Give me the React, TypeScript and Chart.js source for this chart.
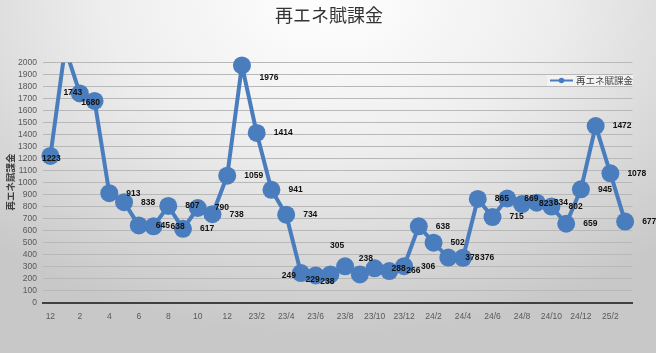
import React, { useEffect, useRef } from "react";
import { Chart, registerables } from "chart.js";

Chart.register(...registerables);

const TITLE = "再エネ賦課金";
const SERIES_NAME = "再エネ賦課金";

const MONTH_LABELS = [
  "12", "1", "2", "3", "4", "5", "6", "7", "8", "9", "10", "11", "12",
  "23/1", "23/2", "23/3", "23/4", "23/5", "23/6", "23/7", "23/8", "23/9", "23/10", "23/11", "23/12",
  "24/1", "24/2", "24/3", "24/4", "24/5", "24/6", "24/7", "24/8", "24/9", "24/10", "24/11", "24/12",
  "25/1", "25/2", "25/3",
];

const VALUES = [
  1223, 2120, 1743, 1680, 913, 838, 645, 638, 807, 617,
  790, 738, 1059, 1976, 1414, 941, 734, 249, 229, 238,
  305, 238, 288, 266, 306, 638, 502, 378, 376, 865,
  715, 869, 823, 834, 802, 659, 945, 1472, 1078, 677,
];

const Y_MIN = 0;
const Y_MAX = 2000;
const Y_STEP = 100;

// label placement tweaks (center-aligned offsets from the point) for crowded spots
const LABEL_ADJUST: Record<number, [number, number]> = {
  0: [1, 3],
  2: [-7, -1],
  3: [-4, 2],
  13: [27, 12],
  17: [-12, 3],
  18: [-3, 4],
  19: [-3, 7],
  20: [-8, -21],
  21: [6, -16],
};

const BLUE = "#4a7dbd";

const labelPlugin = {
  id: "pointLabels",
  afterDatasetsDraw(chart: any) {
    const meta = chart.getDatasetMeta(0);
    const ctx = chart.ctx;
    ctx.save();
    ctx.font = 'bold 8.5px "Liberation Sans", Arial, sans-serif';
    ctx.fillStyle = "#111111";
    ctx.textBaseline = "middle";
    meta.data.forEach((pt: any, i: number) => {
      const v = VALUES[i];
      if (v > Y_MAX) return;
      const adj = LABEL_ADJUST[i];
      if (adj) {
        ctx.textAlign = "center";
        ctx.fillText(String(v), pt.x + adj[0], pt.y + adj[1]);
      } else {
        ctx.textAlign = "left";
        ctx.fillText(String(v), pt.x + 17, pt.y);
      }
    });
    ctx.restore();
  },
};

const decorPlugin = {
  id: "decor",
  afterDraw(chart: any) {
    const ctx = chart.ctx;
    ctx.save();
    // title
    ctx.font = '18px "Noto Sans CJK JP", sans-serif';
    ctx.fillStyle = "#333333";
    ctx.textAlign = "center";
    ctx.textBaseline = "middle";
    ctx.fillText(TITLE, 329, 15);

    // y axis title
    ctx.save();
    ctx.translate(10, 182);
    ctx.rotate(-Math.PI / 2);
    ctx.font = 'bold 9.5px "Noto Sans CJK JP", sans-serif';
    ctx.fillStyle = "#404040";
    ctx.textAlign = "center";
    ctx.textBaseline = "middle";
    ctx.fillText(SERIES_NAME, 0, 0);
    ctx.restore();

    // legend
    ctx.fillStyle = "rgba(244,244,244,0.85)";
    ctx.fillRect(547, 75, 86, 11);
    ctx.strokeStyle = BLUE;
    ctx.lineWidth = 2;
    ctx.beginPath();
    ctx.moveTo(550, 80.5);
    ctx.lineTo(573, 80.5);
    ctx.stroke();
    ctx.fillStyle = BLUE;
    ctx.beginPath();
    ctx.arc(561.5, 80.5, 2.8, 0, Math.PI * 2);
    ctx.fill();
    ctx.font = '9.5px "Noto Sans CJK JP", sans-serif';
    ctx.fillStyle = "#404040";
    ctx.textAlign = "left";
    ctx.textBaseline = "middle";
    ctx.fillText(SERIES_NAME, 576, 80.5);
    ctx.restore();
  },
};

export default function App() {
  const canvasRef = useRef<HTMLCanvasElement | null>(null);

  useEffect(() => {
    document.body.style.margin = "0";
    const canvas = canvasRef.current;
    if (!canvas) return;
    const chart = new Chart(canvas, {
      type: "line",
      data: {
        labels: MONTH_LABELS,
        datasets: [
          {
            label: SERIES_NAME,
            data: VALUES,
            showLine: false,
            pointRadius: (c: any) => ((c.raw ?? 0) > Y_MAX ? 0 : 9),
            pointHoverRadius: 9,
            pointBackgroundColor: BLUE,
            pointBorderColor: BLUE,
            pointBorderWidth: 0,
            clip: false as any,
          },
          {
            label: SERIES_NAME + "_line",
            data: VALUES,
            borderColor: BLUE,
            borderWidth: 4,
            pointRadius: 0,
            tension: 0,
            fill: false,
          },
        ],
      },
      options: {
        animation: false,
        responsive: false,
        devicePixelRatio: 1,
        events: [],
        layout: { padding: { top: 62.5, right: 23.5, left: 0, bottom: 0 } },
        plugins: {
          legend: { display: false },
          title: { display: false },
          tooltip: { enabled: false },
        },
        scales: {
          x: {
            type: "category",
            offset: true,
            grid: { display: false, drawTicks: false },
            border: { display: true, color: "#404040", width: 2 },
            ticks: {
              autoSkip: false,
              maxRotation: 0,
              minRotation: 0,
              padding: 9,
              color: "#595959",
              font: { family: '"Liberation Sans", Arial, sans-serif', size: 8.5 },
              callback: (_v: any, i: number) => (i % 2 === 0 ? MONTH_LABELS[i] : ""),
            },
            afterFit: (s: any) => {
              s.height = 50;
            },
          },
          y: {
            min: Y_MIN,
            max: Y_MAX,
            grid: { color: "#b8b8b8", lineWidth: 1, drawTicks: false },
            border: { display: false },
            ticks: {
              stepSize: Y_STEP,
              autoSkip: false,
              padding: 6,
              color: "#595959",
              font: { family: '"Liberation Sans", Arial, sans-serif', size: 8.5 },
              callback: (v: any) => String(v),
            },
            afterFit: (s: any) => {
              s.width = 43;
            },
          },
        },
      },
      plugins: [labelPlugin, decorPlugin],
    } as any);
    return () => chart.destroy();
  }, []);

  return (
    <div
      style={{
        position: "fixed",
        left: 0,
        top: 0,
        width: 656,
        height: 353,
        background:
          "radial-gradient(ellipse 75% 95% at 50% 0%, #ffffff 0%, #eeeeee 45%, #d2d2d2 85%, #c8c8c8 100%)",
      }}
    >
      <canvas ref={canvasRef} width={656} height={353} style={{ display: "block", width: 656, height: 353 }} />
    </div>
  );
}
